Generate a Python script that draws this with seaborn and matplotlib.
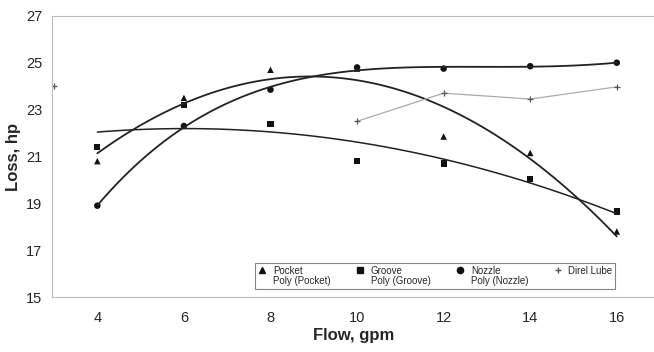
import numpy as np
import pandas as pd
import matplotlib
matplotlib.use("Agg")
import matplotlib.pyplot as plt
from matplotlib.lines import Line2D
import seaborn as sns

flow = [4, 6, 8, 10, 12, 14, 16]
pocket = [20.8, 23.5, 24.7, 24.75, 21.85, 21.15, 17.8]
groove = [21.4, 23.2, 22.4, 20.8, 20.7, 20.05, 18.65]
nozzle = [18.9, 22.3, 23.85, 24.8, 24.75, 24.85, 25.0]
direl_flow = [3, 4, 6, 8, 10, 12, 14, 16]
direl = [24.0, np.nan, np.nan, np.nan, 22.5, 23.7, 23.45, 23.97]
x_ticks = [4, 6, 8, 10, 12, 14, 16]
y_ticks = [15, 17, 19, 21, 23, 25, 27]

sns.set_theme(style="white")
plt.rcParams['font.family'] = ['Liberation Sans Narrow', 'Liberation Sans', 'DejaVu Sans']

fig = plt.figure(figsize=(6.54, 3.52), dpi=100)
ax = fig.add_axes([0.08, 0.156, 0.92, 0.799])

df = pd.DataFrame({"flow": flow, "pocket": pocket, "groove": groove, "nozzle": nozzle})
dd = pd.DataFrame({"flow": direl_flow, "direl": direl})

# trendlines
sns.regplot(data=df, x="flow", y="pocket", order=2, ci=None, scatter=False,
            line_kws=dict(color="#222222", lw=1.3), ax=ax)
sns.regplot(data=df, x="flow", y="groove", order=2, ci=None, scatter=False,
            line_kws=dict(color="#222222", lw=1.1), ax=ax)
sns.regplot(data=df, x="flow", y="nozzle", order=4, ci=None, scatter=False,
            line_kws=dict(color="#222222", lw=1.3), ax=ax)

# direl lube
ax.plot(dd["flow"], dd["direl"], color="#aaaaaa", lw=0.9, marker="+", ms=4,
        mec="#555555", mew=0.9)

sns.scatterplot(data=df, x="flow", y="pocket", marker="^", s=22, color="#111111",
                edgecolor="none", ax=ax)
sns.scatterplot(data=df, x="flow", y="groove", marker="s", s=20, color="#111111",
                edgecolor="none", ax=ax)
sns.scatterplot(data=df, x="flow", y="nozzle", marker="o", s=22, color="#111111",
                edgecolor="none", ax=ax)

ax.set_xlim(2.96, 16.86)
ax.set_ylim(15, 27)
ax.set_xticks(x_ticks)
ax.set_yticks(y_ticks)
ax.set_xticklabels([str(v) for v in x_ticks], fontsize=10.5)
ax.set_yticklabels([str(v) for v in y_ticks], fontsize=10.5)
ax.tick_params(axis="x", length=0, pad=10)
ax.tick_params(axis="y", length=0, pad=7)
ax.set_xlabel("Flow, gpm", fontsize=12, fontweight="bold", labelpad=2)
ax.set_ylabel("Loss, hp", fontsize=12, fontweight="bold", labelpad=4)

for s in ["top", "bottom", "left"]:
    ax.spines[s].set_color("#bbbbbb")
    ax.spines[s].set_linewidth(0.8)
ax.spines["right"].set_visible(False)

handles = [
    Line2D([], [], marker="^", ls="none", color="#111111", ms=5),
    Line2D([], [], ls="none"),
    Line2D([], [], marker="s", ls="none", color="#111111", ms=4.5),
    Line2D([], [], ls="none"),
    Line2D([], [], marker="o", ls="none", color="#111111", ms=4.5),
    Line2D([], [], ls="none"),
    Line2D([], [], marker="+", ls="none", color="#555555", ms=4),
]
labels = ["Pocket", "Poly (Pocket)", "Groove", "Poly (Groove)",
          "Nozzle", "Poly (Nozzle)", "Direl Lube"]
leg = ax.legend(handles, labels, ncol=4, loc="lower left",
                bbox_to_anchor=(0.328, 0.01, 0.616, 0.1), mode="expand",
                fontsize=7, frameon=True, fancybox=False, handlelength=1.0,
                handletextpad=0.6, borderpad=0.3, labelspacing=0.1,
                columnspacing=1.0)
leg.get_frame().set_edgecolor("#666666")
leg.get_frame().set_linewidth(0.8)

fig.savefig("out.png", dpi=100)
